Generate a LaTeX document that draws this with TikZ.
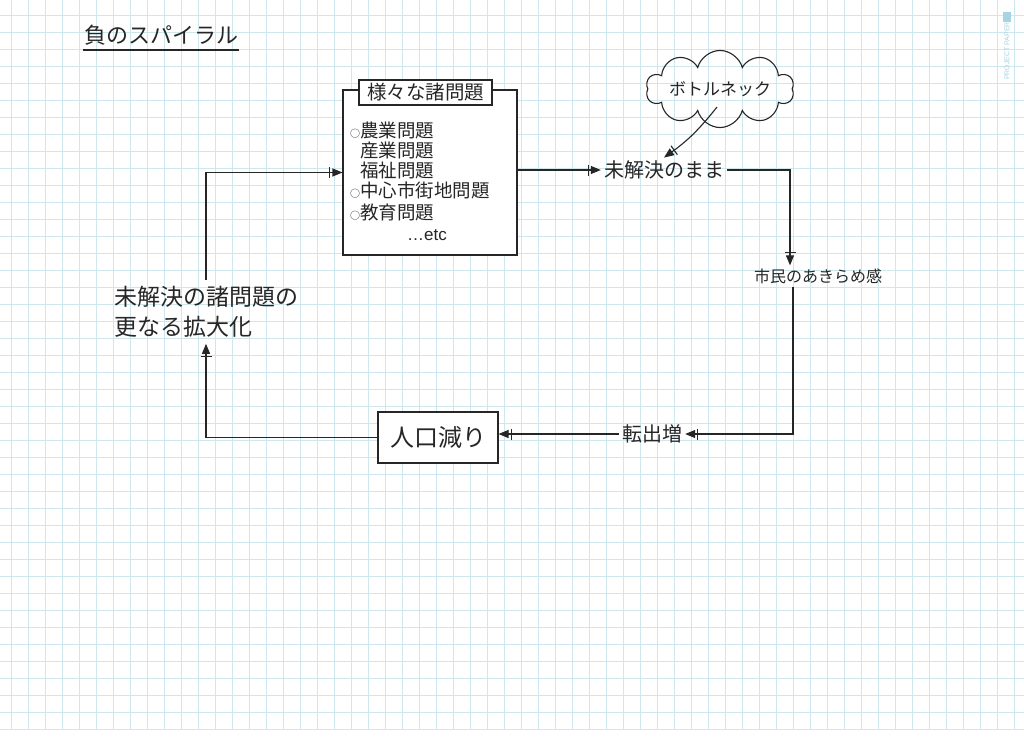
\documentclass[tikz,border=0pt]{standalone}
\usepackage{fontspec}
\newfontfamily\jp{Noto Sans CJK JP}
\newfontfamily\lsans{Liberation Sans}
\usetikzlibrary{arrows.meta,shapes.symbols}
\definecolor{gridblue}{RGB}{206,231,238}
\definecolor{ink}{RGB}{38,38,38}
\definecolor{paperblue}{RGB}{165,212,226}
\tikzset{
  pen/.style={draw=ink, line width=1.1pt},
  arr/.style={pen, -{Bar[width=11pt,line width=1.1pt,sep=2pt]Triangle[length=10pt,width=8pt]}},
  lbl/.style={font=\jp\fontsize{20}{30}\selectfont, text=ink, inner sep=3pt},
  itm/.style={font=\jp\fontsize{18.5}{20}\selectfont, text=ink, inner sep=1pt, anchor=west},
  boxed/.style={pen, fill=white},
}
\begin{document}
\begin{tikzpicture}[x=1pt,y=-1pt]
\useasboundingbox (0,0) rectangle (1024,744);
\fill[white] (0,0) rectangle (1024,744);
% graph paper
\foreach \i in {0,...,59} \draw[gridblue, line width=0.6pt] ({11+17*\i},0) -- ({11+17*\i},730);
\foreach \j in {0,...,42} \draw[gridblue, line width=0.6pt] (0,{15+17*\j}) -- (1024,{15+17*\j});
\fill[paperblue] (1003,12) rectangle (1011,22);
\node[rotate=90, anchor=west, font=\lsans\fontsize{7}{7}\selectfont, text=paperblue, inner sep=0pt] (pp) at (1007,80) {PROJECT PAPER};

% title
\node[lbl, anchor=west, inner sep=1pt, font=\jp\fontsize{22}{26}\selectfont] (title) at (83,35) {負のスパイラル};
\draw[pen] (title.south west |- 0,50) -- (title.south east |- 0,50);

% problems box
\node[boxed, minimum width=174pt, minimum height=165pt] (probs) at (430,172.5) {};
\node[boxed, lbl, font=\jp\fontsize{19.5}{22}\selectfont, minimum width=133pt, minimum height=25pt, inner sep=1pt] (hdr) at (425.5,92.5) {様々な諸問題};
\node[itm] (i1) at (349,130) {{\fontsize{10}{10}\selectfont ○}農業問題};
\node[itm] (i2) at (359,150) {産業問題};
\node[itm] (i3) at (359,170) {福祉問題};
\node[itm] (i4) at (349,190) {{\fontsize{10}{10}\selectfont ○}中心市街地問題};
\node[itm] (i5) at (349,212) {{\fontsize{10}{10}\selectfont ○}教育問題};
\node[itm, font=\lsans\fontsize{17}{20}\selectfont] (i6) at (406,235) {…etc};

% other nodes
\node[lbl] (mikai) at (664,170) {未解決のまま};
\node[cloud, cloud puffs=10, aspect=3.2, pen, inner sep=0pt, minimum width=118pt, minimum height=36pt, text=ink, font=\jp\fontsize{17}{20}\selectfont] (bn) at (720,89) {ボトルネック};
\node[lbl, font=\jp\fontsize{16}{20}\selectfont] (shimin) at (818,276) {市民のあきらめ感};
\node[lbl] (ten) at (652,434) {転出増};
\node[boxed, lbl, font=\jp\fontsize{24}{26}\selectfont, minimum width=120pt, minimum height=51pt] (jinko) at (438,437.5) {人口減り};
\node[lbl, font=\jp\fontsize{23}{30}\selectfont, align=left, inner sep=6pt] (kak) at (206,312) {未解決の諸問題の\\更なる拡大化};

% connectors
\draw[arr] (kak.north) |- (probs.west);
\draw[arr] (probs.east |- mikai.west) -- (mikai.west);
\draw[arr] (mikai.east) -| ([xshift=-28pt]shimin.north);
\draw[arr] ([xshift=-25pt]shimin.south) |- (ten.east);
\draw[arr] (ten.west) -- (ten.west -| jinko.east);
\draw[arr] (jinko.west) -| (kak.south);
\coordinate (bnfoot) at ([xshift=-3pt,yshift=-18pt]bn.center);
\draw[arr] (bnfoot) to[bend left=8] (mikai.north);
\end{tikzpicture}
\end{document}
